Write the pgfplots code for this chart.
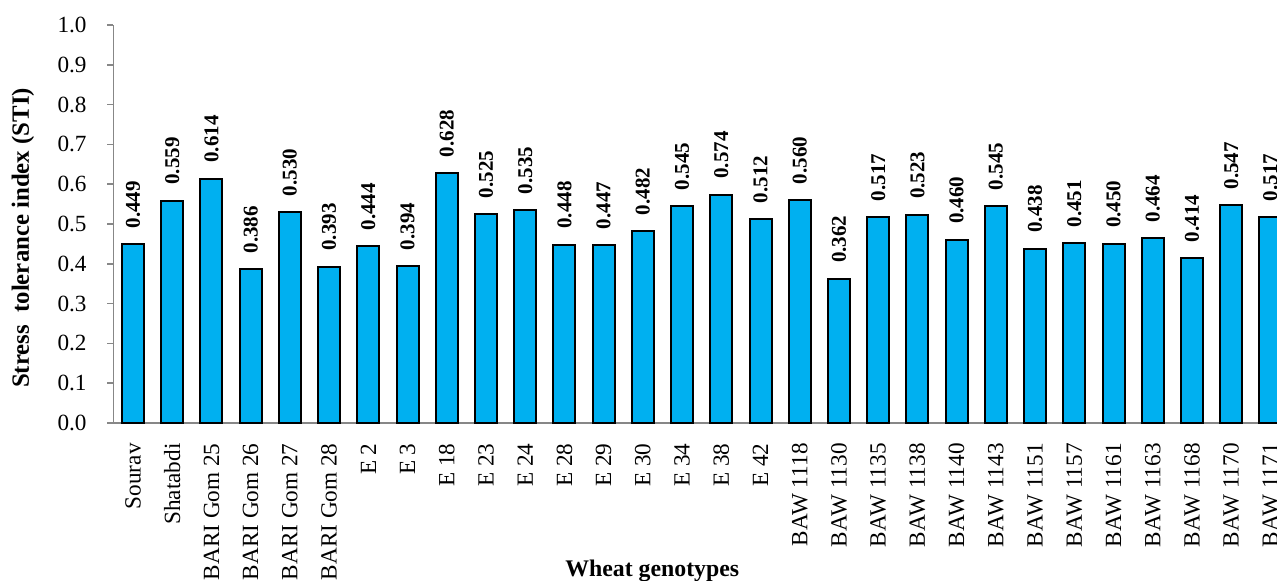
\documentclass[border=0pt]{standalone}
\usepackage{fontspec}
\setmainfont{Liberation Serif}
\usepackage{pgfplots}
\usepackage{pgfplotstable}
\pgfplotsset{compat=1.18}
\usetikzlibrary{calc}

\definecolor{barcyan}{HTML}{00B0F0}
\definecolor{axisgray}{HTML}{878787}

% stress tolerance index per genotype, in plotting order
\pgfplotstableread{
idx sti
0  0.449
1  0.559
2  0.614
3  0.386
4  0.530
5  0.393
6  0.444
7  0.394
8  0.628
9  0.525
10 0.535
11 0.448
12 0.447
13 0.482
14 0.545
15 0.574
16 0.512
17 0.560
18 0.362
19 0.517
20 0.523
21 0.460
22 0.545
23 0.438
24 0.451
25 0.450
26 0.464
27 0.414
28 0.547
29 0.517
}\stidata

\begin{document}
\begin{tikzpicture}
\begin{axis}[
    scale only axis,
    width=588.3pt, height=199pt,
    xmin=-0.5, xmax=29.5,
    ymin=0, ymax=1,
    axis lines*=left,
    axis line style={axisgray, line width=0.75pt},
    xtick={0,...,29},
    xticklabels={Sourav, Shatabdi, BARI Gom 25, BARI Gom 26, BARI Gom 27, BARI Gom 28,
        E 2, E 3, E 18, E 23, E 24, E 28, E 29, E 30, E 34, E 38, E 42,
        BAW 1118, BAW 1130, BAW 1135, BAW 1138, BAW 1140, BAW 1143, BAW 1151,
        BAW 1157, BAW 1161, BAW 1163, BAW 1168, BAW 1170, BAW 1171},
    x tick style={draw=none},
    xticklabel style={rotate=90, anchor=east, inner xsep=7pt, inner ysep=0pt},
    ytick={0,0.1,0.2,0.3,0.4,0.5,0.6,0.7,0.8,0.9,1.0},
    y tick style={axisgray, line width=0.75pt},
    tick align=outside,
    major tick length=3pt,
    yticklabel={\pgfmathprintnumber[fixed,fixed zerofill,precision=1]{\tick}},
    yticklabel style={anchor=east, inner sep=0pt, xshift=-10.2pt},
    /pgf/number format/assume math mode=true,
    tick label style={font=\fontsize{11.6}{13}\selectfont},
    every axis y label/.style={at={(rel axis cs:0,0.465)}, xshift=-45.2pt,
        rotate=90, anchor=center, font=\bfseries\fontsize{12.4}{14}\selectfont},
    ylabel={Stress\ \ tolerance index (STI)},
    every axis x label/.style={at={(rel axis cs:0.458,0)}, yshift=-77pt,
        anchor=base, font=\bfseries\fontsize{11.9}{13}\selectfont},
    xlabel={Wheat genotypes},
    clip=false,
]
\addplot[ybar, bar width=11pt, fill=barcyan, draw=black, line width=1pt,
    nodes near coords={\pgfmathprintnumber[fixed,fixed zerofill,precision=3]{\pgfplotspointmeta}},
    nodes near coords style={rotate=90, anchor=west, inner xsep=7.5pt, inner ysep=0pt,
        text=black, font=\bfseries\fontsize{10.5}{12}\selectfont},
] table[x=idx, y=sti] {\stidata};
\end{axis}
\pgfresetboundingbox
\path[use as bounding box] ($(current axis.south west)+(-56.7pt,-79pt)$)
    rectangle ($(current axis.south west)+(581.8pt,211.5pt)$);
\end{tikzpicture}
\end{document}
